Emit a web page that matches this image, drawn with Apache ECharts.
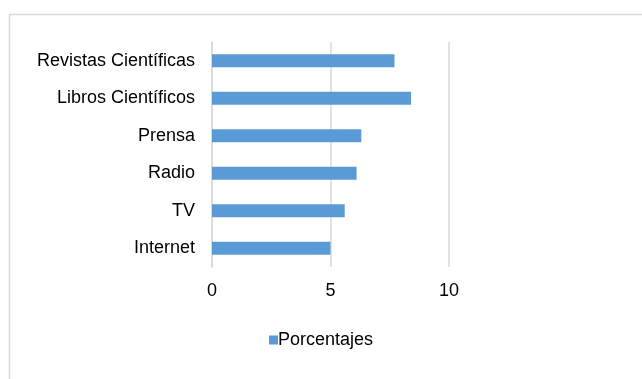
<!DOCTYPE html>
<html><head><meta charset="utf-8">
<script src="https://cdn.jsdelivr.net/npm/echarts@6/dist/echarts.min.js"></script>
<style>html,body{margin:0;padding:0;background:#fff}#c{width:642px;height:379px}</style>
</head><body><div id="c"></div>
<script>
const categories = ["Internet", "TV", "Radio", "Prensa", "Libros Científicos", "Revistas Científicas"];
const values = [5.0, 5.6, 6.1, 6.3, 8.4, 7.7];
const xTicks = [0, 5, 10];
const seriesName = "Porcentajes";

const chart = echarts.init(document.getElementById('c'), null, {renderer: 'canvas'});
const font = 'Liberation Sans, Arial, sans-serif';
chart.setOption({
  backgroundColor: '#fff',
  animation: false,
  graphic: [{
    type: 'rect', left: 7, top: 12,
    shape: {width: 700, height: 400},
    style: {fill: 'none', stroke: '#d9d9d9', lineWidth: 1.5},
    silent: true
  }],
  grid: {left: 212, right: 193, top: 42, bottom: 112, containLabel: false},
  xAxis: {
    type: 'value', min: xTicks[0], max: xTicks[xTicks.length - 1], interval: 5,
    axisLine: {show: false}, axisTick: {show: false},
    splitLine: {show: true, lineStyle: {color: '#d9d9d9', width: 1.5}},
    axisLabel: {color: '#000', fontSize: 18, fontFamily: font, margin: 15}
  },
  yAxis: {
    type: 'category', data: categories,
    axisLine: {show: true, lineStyle: {color: '#d9d9d9', width: 1.5}},
    axisTick: {show: false},
    axisLabel: {color: '#000', fontSize: 18, fontFamily: font, margin: 17}
  },
  legend: {
    show: true, bottom: 25, left: 'center',
    itemWidth: 9, itemHeight: 9, itemGap: 10,
    icon: 'rect',
    textStyle: {color: '#000', fontSize: 18, fontFamily: font, padding: [0, 0, 0, -5]},
    data: [seriesName]
  },
  series: [{
    name: seriesName, type: 'bar', data: values,
    barWidth: 13,
    itemStyle: {color: '#5B9BD5'}
  }]
});
</script></body></html>
